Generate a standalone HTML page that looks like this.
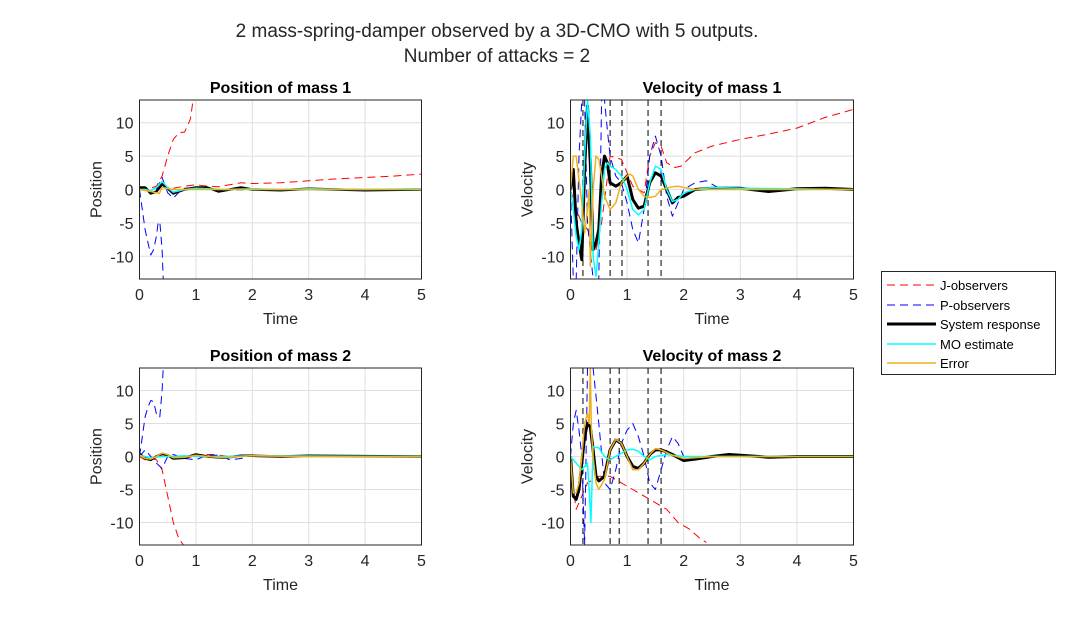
<!DOCTYPE html>
<html><head><meta charset="utf-8"><style>
body{margin:0;background:#fff;width:1069px;height:614px;overflow:hidden;font-family:"Liberation Sans",sans-serif}
</style></head><body>
<svg id="fig" width="1069" height="614" xmlns="http://www.w3.org/2000/svg" font-family="Liberation Sans, sans-serif">
<text x="497" y="37" font-size="19" text-anchor="middle" fill="#262626">2 mass-spring-damper observed by a 3D-CMO with 5 outputs.</text>
<text x="497" y="62" font-size="19" text-anchor="middle" fill="#262626">Number of attacks = 2</text>
<g id="plots"></g>
<g>
<rect x="881.5" y="271.5" width="174" height="103" fill="#fff" stroke="#262626" stroke-width="1"/>
<line x1="887" y1="285" x2="936" y2="285" stroke="#ff0000" stroke-dasharray="8,5"/><text x="940" y="290" font-size="13" fill="#000">J-observers</text>
<line x1="887" y1="305" x2="936" y2="305" stroke="#0000ff" stroke-dasharray="8,5"/><text x="940" y="310" font-size="13" fill="#000">P-observers</text>
<line x1="887" y1="324" x2="936" y2="324" stroke="#000" stroke-width="3"/><text x="940" y="329" font-size="13" fill="#000">System response</text>
<line x1="887" y1="344" x2="936" y2="344" stroke="#00ffff" stroke-width="1.5"/><text x="940" y="349" font-size="13" fill="#000">MO estimate</text>
<line x1="887" y1="363" x2="936" y2="363" stroke="#edb120" stroke-width="1.5"/><text x="940" y="368" font-size="13" fill="#000">Error</text>
</g>
</svg>
<script>
const xTicks=[0,1,2,3,4,5];
const yTicks=[-10,-5,0,5,10];
const yLim=[-13.4,13.4];
// Position mass 1
const p1J_t=[0,0.1,0.2,0.3,0.4,0.5,0.6,0.7,0.8,0.9,0.95];
const p1J_v=[0,0.3,0.2,0.5,2,5,7.5,8.5,8.6,10.5,13.4];
const p1J2_t=[0.6,0.8,1,1.2,1.4,1.6,1.8,2,2.5,3,3.5,4,4.5,5];
const p1J2_v=[0.2,0.5,0.7,0.5,0.4,0.7,1,0.9,1,1.3,1.6,1.8,2,2.3];
const p1P_t=[0,0.05,0.1,0.15,0.2,0.25,0.3,0.33,0.36,0.4,0.42];
const p1P_v=[0,-3,-6,-8,-9.8,-9,-7,-5,-4.8,-9,-13.4];
const p1P2_t=[0.3,0.4,0.5,0.6,0.7,0.8,1,1.2,1.5,2];
const p1P2_v=[0,1.8,-0.5,-1.3,-0.4,0.2,0.3,0.2,-0.1,0];
const p1S_t=[0,0.1,0.2,0.3,0.4,0.5,0.6,0.8,1,1.2,1.4,1.6,1.8,2,2.5,3,3.5,4,5];
const p1S_v=[0.3,0.3,-0.6,-0.3,0.8,0.2,-0.6,0,0.3,0.3,-0.3,0,0.3,0,-0.1,0.1,0,-0.1,0];
const p1M_t=[0,0.1,0.2,0.3,0.4,0.5,0.6,0.8,1,1.5,2,2.5,3,4,5];
const p1M_v=[0,0,-0.2,0.3,1.2,0.3,-0.4,0,0.2,0,0.1,0,0.1,0,0.1];
const p1E_t=[0,0.2,0.35,0.4,0.6,1,1.5,2,5];
const p1E_v=[0,-0.3,-0.6,0.3,0,0,0,0,0];
// Velocity mass 1
const v1J_t=[0,0.1,0.2,0.3,0.45,0.55,0.7,0.9,1.1,1.3,1.4,1.5,1.6,1.7,1.85,1.95,2.2,2.5,3,3.5,4,4.5,5];
const v1J_v=[0,-3,-5,-6,-9,-5,5,4.5,0.5,-0.5,5,7,6.5,4,3.3,3.5,5.5,6.5,7.5,8.3,9.2,10.8,12];
const v1P_t=[0,0.05,0.1,0.15,0.2,0.25,0.3,0.4,0.5,0.55,0.6,0.65,0.7,0.8,0.9,1,1.1,1.2,1.3,1.4,1.5,1.6,1.7,1.8,1.9,2,2.2,2.4,2.6,3];
const v1P_v=[0,-13.4,-13.4,5,13.4,13.4,-5,-13.4,-13.4,13.4,13.4,9,5,2,1,-2,-6,-8,-3,5,8,5,-1,-4,-2,0,1,1.3,0.3,0];
const v1S_t=[0,0.05,0.1,0.15,0.2,0.25,0.3,0.35,0.4,0.45,0.5,0.55,0.6,0.65,0.7,0.8,0.9,1,1.1,1.2,1.3,1.4,1.5,1.6,1.7,1.8,1.9,2,2.2,2.5,3,3.5,4,4.5,5];
const v1S_v=[0,3,-5,-8,-10.5,3,12.5,4,-9,-8,-6,2,5,4,1,0.5,1,2,-1.5,-2.8,-2.5,1,2.5,2,0,-2,-1.2,-1,0,0.2,0.2,-0.3,0.1,0.2,0];
const v1M_t=[0,0.05,0.1,0.15,0.2,0.25,0.3,0.35,0.4,0.45,0.5,0.55,0.6,0.65,0.7,0.8,0.9,1,1.1,1.2,1.3,1.4,1.5,1.6,1.7,1.8,1.9,2,2.2,2.5,3,5];
const v1M_v=[0,-3,-7,-9,-6,5,13.4,8,-10,-13,-8,-2,3,4,3.5,3,2,0,-3,-3.8,-3,1,3.5,3,0,-1.8,-1.5,-0.5,0,0.3,0.2,0];
const v1E_t=[0,0.05,0.1,0.2,0.25,0.3,0.33,0.35,0.4,0.45,0.5,0.55,0.6,0.7,0.8,0.9,1,1.05,1.1,1.2,1.3,1.4,1.5,1.6,1.8,1.9,2,2.2,2.5,3,5];
const v1E_v=[0,5,5,-2,-6.5,-3,0,-11.5,0,5,4.5,2,-1,-3,-2,1,2,2.3,2,0,-1,-1.2,-1,0,0.4,0.5,0.3,0,0,0,0];
const v1D_t=[0.22,0.7,0.91,1.37,1.6];
// Position mass 2
const p2J_t=[0,0.1,0.2,0.3,0.4,0.5,0.6,0.7,0.78];
const p2J_v=[0,-0.5,-0.3,-0.5,-2,-6,-10,-12.5,-13.4];
const p2J2_t=[0.5,0.8,1,1.3,1.6,2,2.5,3,5];
const p2J2_v=[0,0,0.3,0.3,0,0.2,0.1,0,0];
const p2P_t=[0,0.05,0.1,0.15,0.2,0.25,0.3,0.33,0.36,0.4,0.42];
const p2P_v=[0,3,6,7.5,8.5,8.3,6.5,6.5,6,10,13.4];
const p2P2_t=[0,0.1,0.2,0.3,0.4,0.5,0.6,0.8,1,1.2,1.4,1.6,1.8,2,2.2];
const p2P2_v=[0,1,0,-1,-1.8,0,0.3,-0.3,-0.5,0.2,0.2,-0.5,-0.3,0.2,0];
const p2S_t=[0,0.1,0.2,0.3,0.4,0.5,0.6,0.8,1,1.2,1.5,1.8,2,2.5,3,5];
const p2S_v=[0.4,-0.3,-0.5,0,0.4,0.2,-0.3,-0.2,0.3,0,-0.2,0.1,0.1,0,0.1,0];
const p2M_t=[0,0.2,0.4,0.6,0.8,1,1.5,2,5];
const p2M_v=[0.2,-0.2,0,0,0.1,0,0,0.1,0];
const p2E_t=[0,0.1,0.2,0.3,0.4,0.5,0.6,0.8,1,1.2,1.5,2,3,5];
const p2E_v=[0.2,-0.3,-0.4,0,0.5,0.3,-0.2,-0.1,0.2,0,-0.2,0.1,0,0];
// Velocity mass 2
const v2J_t=[0,0.05,0.1,0.2,0.3,0.5,0.7,0.9,1.1,1.3,1.5,1.7,1.9,2.1,2.3,2.4];
const v2J_v=[0,-5,-8,-6,-4,-3,-3,-4,-5,-6,-7,-8,-10,-11,-12.5,-13];
const v2P_t=[0,0.05,0.1,0.15,0.2,0.25,0.3,0.4,0.5,0.6,0.7,0.8,0.9,1,1.1,1.2,1.3,1.4,1.5,1.6,1.7,1.8,1.9,2,2.2,2.4,2.6,3];
const v2P_v=[0,5,7,4,0,-13.4,13.4,13.4,5,-4,-5,-2,2,4,5,3,0,-4,-5,-2,1,3,2,0,-0.5,-0.3,0.2,0];
const v2S_t=[0,0.05,0.1,0.15,0.2,0.25,0.3,0.35,0.4,0.45,0.5,0.6,0.7,0.8,0.9,1,1.1,1.2,1.3,1.4,1.5,1.6,1.7,1.8,2,2.2,2.5,2.8,3,3.5,4,5];
const v2S_v=[0,-6,-6.5,-5,-1,3,5,4.5,1,-3,-3.7,-3,1,2.5,2,0,-1.5,-1.8,-1,0.3,1,1,0.7,0.3,-0.6,-0.4,0,0.3,0.2,-0.1,0,0];
const v2M_t=[0,0.1,0.2,0.3,0.33,0.36,0.4,0.5,0.6,0.7,0.8,0.9,1,1.1,1.2,1.3,1.4,1.5,1.7,2,2.5,5];
const v2M_v=[0,-1,-2,-1,-5,-10,1.5,1.3,0,-0.5,0,0.5,1,1.1,0.8,0,-0.5,0,0.3,0,0,0];
const v2E_t=[0,0.05,0.1,0.15,0.2,0.25,0.3,0.33,0.35,0.37,0.4,0.45,0.5,0.6,0.7,0.8,0.9,1,1.1,1.2,1.3,1.4,1.5,1.6,1.8,2,2.5,3,5];
const v2E_v=[0,-5.5,-5.5,-4,0,5,6.5,5,13.4,4,0,-4,-5,-3.5,1,2.6,2,0,-2,-2,-1,0.3,1.2,1,0.2,-0.3,0,0,0];
const v2D_t=[0.22,0.7,0.86,1.37,1.6];

const NS='http://www.w3.org/2000/svg';
const root=document.getElementById('plots');
function mk(tag,attrs,parent){const e=document.createElementNS(NS,tag);for(const k in attrs)e.setAttribute(k,attrs[k]);parent.appendChild(e);return e;}
function panel(cfg){
  const g=mk('g',{},root);
  
  
  const X=t=>cfg.x0+(t-0)/(5-0)*(cfg.x1-cfg.x0);
  const Y=v=>cfg.y1-(v-yLim[0])/(yLim[1]-yLim[0])*(cfg.y1-cfg.y0);
  mk('rect',{x:cfg.x0,y:cfg.y0,width:cfg.x1-cfg.x0,height:cfg.y1-cfg.y0,fill:'#fff'},g);
  const defs=mk('defs',{},g);const cp=mk('clipPath',{id:'c'+cfg.id},defs);
  mk('rect',{x:cfg.x0,y:cfg.y0,width:cfg.x1-cfg.x0,height:cfg.y1-cfg.y0},cp);
  xTicks.forEach(t=>{const l=mk('line',{x1:X(t),x2:X(t),y1:cfg.y0,y2:cfg.y1,stroke:'#dfdfdf','stroke-width':1},g);
    const tx=mk('text',{x:X(t),y:cfg.y1+21,'font-size':16,'text-anchor':'middle',fill:'#262626'},g);tx.textContent=t;});
  yTicks.forEach(v=>{const l=mk('line',{x1:cfg.x0,x2:cfg.x1,y1:Y(v),y2:Y(v),stroke:'#dfdfdf','stroke-width':1},g);
    const tx=mk('text',{x:cfg.x0-6,y:Y(v)+6,'font-size':16,'text-anchor':'end',fill:'#262626'},g);tx.textContent=v;});
  const sg=mk('g',{'clip-path':'url(#c'+cfg.id+')'},g);
  (cfg.vlines||[]).forEach(t=>{const l=mk('line',{x1:X(t),x2:X(t),y1:cfg.y0,y2:cfg.y1,stroke:'#000','stroke-width':1,'stroke-dasharray':'6,4'},sg);});
  cfg.series.forEach(s=>{const pts=s.t.map((t,i)=>X(t).toFixed(1)+','+Y(s.v[i]).toFixed(1)).join(' ');
    const p=mk('polyline',{points:pts,fill:'none',stroke:s.c,'stroke-width':s.w,'stroke-dasharray':s.d||'none','stroke-linejoin':'round'},sg);
    });
  mk('rect',{x:cfg.x0,y:cfg.y0,width:cfg.x1-cfg.x0,height:cfg.y1-cfg.y0,fill:'none',stroke:'#262626','stroke-width':1},g);
  const ti=mk('text',{x:(cfg.x0+cfg.x1)/2,y:cfg.y0-7,'font-size':16,'font-weight':'bold','text-anchor':'middle',fill:'#000'},g);ti.textContent=cfg.title;
  const xl=mk('text',{x:(cfg.x0+cfg.x1)/2,y:cfg.y1+45,'font-size':16,'text-anchor':'middle',fill:'#262626'},g);xl.textContent='Time';
  const yx=cfg.x0-38,yy=(cfg.y0+cfg.y1)/2;
  const yl=mk('text',{x:yx,y:yy,'font-size':16,'text-anchor':'middle',fill:'#262626',transform:'rotate(-90 '+yx+' '+yy+')'},g);yl.textContent=cfg.ylab;
}
const R='#ff0000',B='#0000ff',K='#000',C='#00ffff',O='#edb120',DJ='8,5',DP='8,5';
panel({id:1,name:'position-mass-1-axes',title:'Position of mass 1',ylab:'Position',x0:139.5,x1:421.5,y0:100,y1:279,series:[
 {n:'j-observer',t:p1J_t,v:p1J_v,c:R,w:1,d:DJ},{n:'j-observer',t:p1J2_t,v:p1J2_v,c:R,w:1,d:DJ},
 {n:'p-observer',t:p1P_t,v:p1P_v,c:B,w:1,d:DP},{n:'p-observer',t:p1P2_t,v:p1P2_v,c:B,w:1,d:DP},
 {n:'system-response',t:p1S_t,v:p1S_v,c:K,w:2.5},{n:'mo-estimate',t:p1M_t,v:p1M_v,c:C,w:1.5},{n:'error',t:p1E_t,v:p1E_v,c:O,w:1.5}]});
panel({id:2,name:'velocity-mass-1-axes',title:'Velocity of mass 1',ylab:'Velocity',x0:570.5,x1:853.5,y0:100,y1:279,vlines:v1D_t,series:[
 {n:'j-observer',t:v1J_t,v:v1J_v,c:R,w:1,d:DJ},{n:'p-observer',t:v1P_t,v:v1P_v,c:B,w:1,d:DP},
 {n:'system-response',t:v1S_t,v:v1S_v,c:K,w:3},{n:'mo-estimate',t:v1M_t,v:v1M_v,c:C,w:1.5},{n:'error',t:v1E_t,v:v1E_v,c:O,w:1.5}]});
panel({id:3,name:'position-mass-2-axes',title:'Position of mass 2',ylab:'Position',x0:139.5,x1:421.5,y0:368,y1:545,series:[
 {n:'j-observer',t:p2J_t,v:p2J_v,c:R,w:1,d:DJ},{n:'j-observer',t:p2J2_t,v:p2J2_v,c:R,w:1,d:DJ},
 {n:'p-observer',t:p2P_t,v:p2P_v,c:B,w:1,d:DP},{n:'p-observer',t:p2P2_t,v:p2P2_v,c:B,w:1,d:DP},
 {n:'system-response',t:p2S_t,v:p2S_v,c:K,w:2.5},{n:'mo-estimate',t:p2M_t,v:p2M_v,c:C,w:1.5},{n:'error',t:p2E_t,v:p2E_v,c:O,w:1.5}]});
panel({id:4,name:'velocity-mass-2-axes',title:'Velocity of mass 2',ylab:'Velocity',x0:570.5,x1:853.5,y0:368,y1:545,vlines:v2D_t,series:[
 {n:'j-observer',t:v2J_t,v:v2J_v,c:R,w:1,d:DJ},{n:'p-observer',t:v2P_t,v:v2P_v,c:B,w:1,d:DP},
 {n:'system-response',t:v2S_t,v:v2S_v,c:K,w:3},{n:'mo-estimate',t:v2M_t,v:v2M_v,c:C,w:1.5},{n:'error',t:v2E_t,v:v2E_v,c:O,w:1.5}]});
</script>
</body></html>
